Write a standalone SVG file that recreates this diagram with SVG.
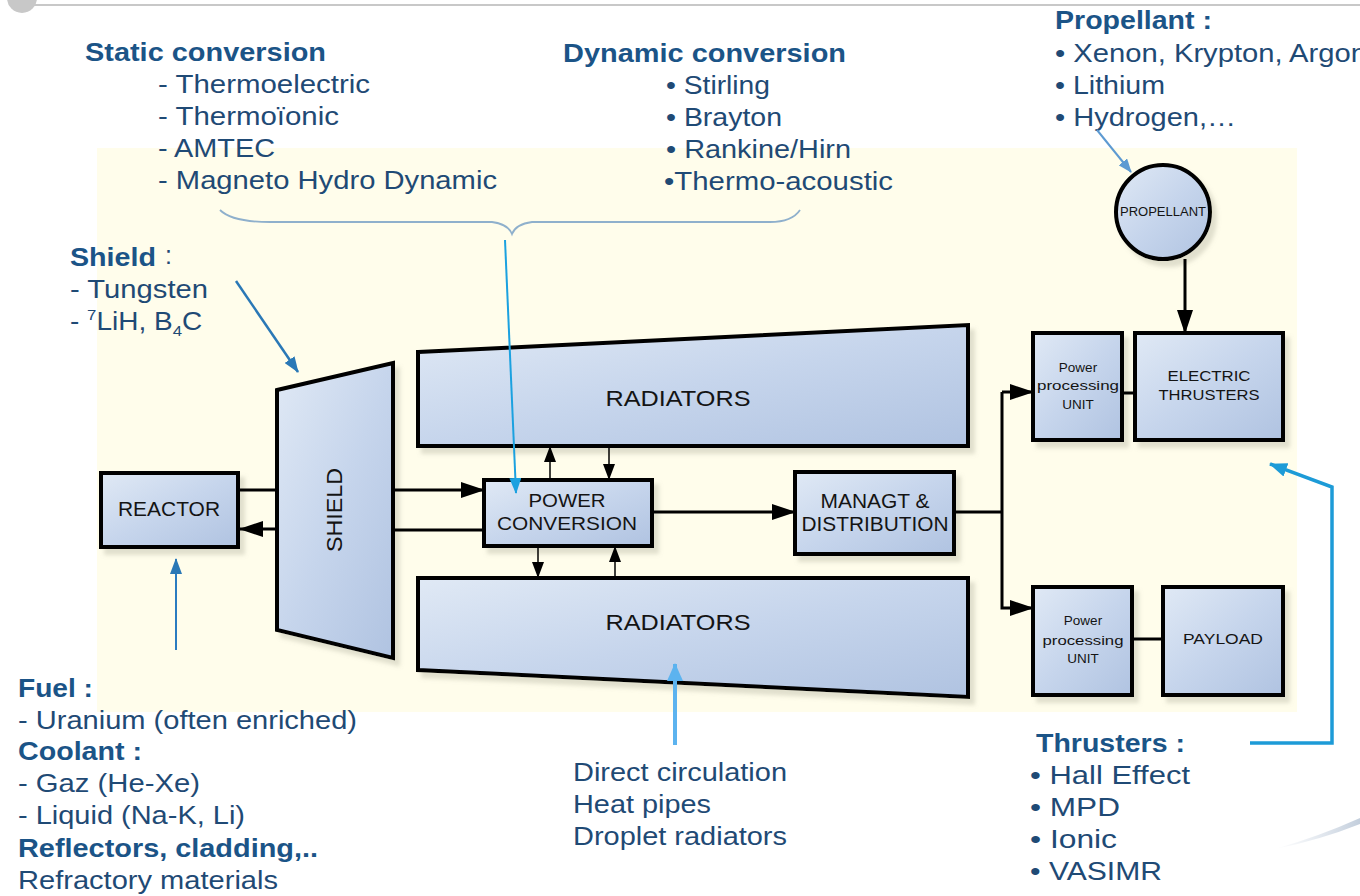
<svg xmlns="http://www.w3.org/2000/svg" width="1360" height="896" viewBox="0 0 1360 896">
<defs>
<style>
.h{font-family:"Liberation Sans",Arial,sans-serif;font-weight:bold;font-size:25px;fill:#1b5487}
.t{font-family:"Liberation Sans",Arial,sans-serif;font-size:25px;fill:#1f4a75}
.n{font-family:"Liberation Sans",Arial,sans-serif;fill:#141414;text-anchor:middle}
.node{fill:url(#gBlue);stroke:#000;stroke-width:4;stroke-linejoin:miter;filter:url(#sh)}
.con{fill:none;stroke:#000;stroke-width:3}
.cs{fill:none;stroke:#000;stroke-width:1.5}
</style>
<linearGradient id="gBlue" x1="0" y1="0" x2="1" y2="1">
<stop offset="0" stop-color="#e0e9f5"/>
<stop offset="0.5" stop-color="#c6d5ec"/>
<stop offset="1" stop-color="#b0c3e1"/>
</linearGradient>
<linearGradient id="gSw" x1="0" y1="0" x2="1" y2="0">
<stop offset="0" stop-color="#c0ccdb" stop-opacity="0"/>
<stop offset="1" stop-color="#a9b9cd" stop-opacity="0.7"/>
</linearGradient>
<filter id="sh" x="-10%" y="-10%" width="130%" height="130%">
<feDropShadow dx="5" dy="6" stdDeviation="2" flood-color="#9a9a88" flood-opacity="0.3"/>
</filter>
<marker id="mB" markerUnits="userSpaceOnUse" markerWidth="24" markerHeight="16" refX="23" refY="8" orient="auto"><path d="M0,0 L24,8 L0,16 Z" fill="#000"/></marker>
<marker id="mS" markerUnits="userSpaceOnUse" markerWidth="16" markerHeight="12" refX="15" refY="6" orient="auto"><path d="M0,0 L16,6 L0,12 Z" fill="#000"/></marker>
<marker id="mBl1" markerUnits="userSpaceOnUse" markerWidth="16" markerHeight="12" refX="15" refY="6" orient="auto"><path d="M0,0 L16,6 L0,12 Z" fill="#2a78b6"/></marker>
<marker id="mBl2" markerUnits="userSpaceOnUse" markerWidth="16" markerHeight="12" refX="15" refY="6" orient="auto"><path d="M0,0 L16,6 L0,12 Z" fill="#1ba1e0"/></marker>
<marker id="mBl3" markerUnits="userSpaceOnUse" markerWidth="18" markerHeight="16" refX="17" refY="8" orient="auto"><path d="M0,0 L18,8 L0,16 Z" fill="#5cb3ef"/></marker>
<marker id="mBl4" markerUnits="userSpaceOnUse" markerWidth="18" markerHeight="14" refX="17" refY="7" orient="auto"><path d="M0,0 L18,7 L0,14 Z" fill="#1d9bd7"/></marker>
<marker id="mBl5" markerUnits="userSpaceOnUse" markerWidth="14" markerHeight="11" refX="13" refY="5.5" orient="auto"><path d="M0,0 L14,5.5 L0,11 Z" fill="#5d9ad2"/></marker>
</defs>

<rect x="0" y="0" width="1360" height="896" fill="#ffffff"/>
<line x1="20" y1="5" x2="1360" y2="5" stroke="#c8c8c8" stroke-width="2"/>
<circle cx="22" cy="-2" r="15" fill="#c8c8c8"/>
<rect x="97" y="148" width="1200" height="564" fill="#fffdeb"/>
<path d="M1275,849 Q1320,836 1360,818 L1360,824 Q1320,840 1275,849 Z" fill="url(#gSw)"/>

<!-- annotation texts -->
<g id="static-conversion">
<text class="h" x="85" y="61" textLength="241" lengthAdjust="spacingAndGlyphs">Static conversion</text>
<text class="t" x="158" y="93" textLength="212" lengthAdjust="spacingAndGlyphs">- Thermoelectric</text>
<text class="t" x="158" y="125" textLength="181" lengthAdjust="spacingAndGlyphs">- Thermoïonic</text>
<text class="t" x="158" y="157" textLength="117" lengthAdjust="spacingAndGlyphs">- AMTEC</text>
<text class="t" x="158" y="189" textLength="339" lengthAdjust="spacingAndGlyphs">- Magneto Hydro Dynamic</text>
</g>
<g id="dynamic-conversion">
<text class="h" x="563" y="62" textLength="283" lengthAdjust="spacingAndGlyphs">Dynamic conversion</text>
<text class="t" x="666" y="94" textLength="104" lengthAdjust="spacingAndGlyphs">• Stirling</text>
<text class="t" x="666" y="126" textLength="116" lengthAdjust="spacingAndGlyphs">• Brayton</text>
<text class="t" x="666" y="158" textLength="185" lengthAdjust="spacingAndGlyphs">• Rankine/Hirn</text>
<text class="t" x="664" y="190" textLength="229" lengthAdjust="spacingAndGlyphs">•Thermo-acoustic</text>
</g>
<g id="propellant-notes">
<text class="h" x="1055" y="29" textLength="157" lengthAdjust="spacingAndGlyphs">Propellant :</text>
<text class="t" x="1055" y="62" textLength="312" lengthAdjust="spacingAndGlyphs">• Xenon, Krypton, Argon</text>
<text class="t" x="1055" y="94" textLength="110" lengthAdjust="spacingAndGlyphs">• Lithium</text>
<text class="t" x="1055" y="126" textLength="181" lengthAdjust="spacingAndGlyphs">• Hydrogen,…</text>
</g>
<g id="shield-notes">
<text class="h" x="70" y="266" textLength="86" lengthAdjust="spacingAndGlyphs">Shield</text>
<text class="t" x="165" y="264">:</text>
<text class="t" x="70" y="298" textLength="138" lengthAdjust="spacingAndGlyphs">- Tungsten</text>
<text class="t" transform="translate(70,330) scale(1.12,1)" x="0" y="0">- <tspan font-size="15" dy="-10">7</tspan><tspan dy="10">LiH, B</tspan><tspan font-size="15" dy="6">4</tspan><tspan dy="-6">C</tspan></text>
</g>
<g id="reactor-notes">
<text class="h" x="18" y="697" textLength="75" lengthAdjust="spacingAndGlyphs">Fuel :</text>
<text class="t" x="18" y="729" textLength="339" lengthAdjust="spacingAndGlyphs">- Uranium (often enriched)</text>
<text class="h" x="18" y="760" textLength="124" lengthAdjust="spacingAndGlyphs">Coolant :</text>
<text class="t" x="18" y="792" textLength="182" lengthAdjust="spacingAndGlyphs">- Gaz (He-Xe)</text>
<text class="t" x="18" y="824" textLength="227" lengthAdjust="spacingAndGlyphs">- Liquid (Na-K, Li)</text>
<text class="h" x="18" y="857" textLength="300" lengthAdjust="spacingAndGlyphs">Reflectors, cladding,..</text>
<text class="t" x="18" y="889" textLength="260" lengthAdjust="spacingAndGlyphs">Refractory materials</text>
</g>
<g id="radiator-notes">
<text class="t" x="573" y="781" textLength="214" lengthAdjust="spacingAndGlyphs" fill="#1f5a93">Direct circulation</text>
<text class="t" x="573" y="813" textLength="138" lengthAdjust="spacingAndGlyphs">Heat pipes</text>
<text class="t" x="573" y="845" textLength="214" lengthAdjust="spacingAndGlyphs">Droplet radiators</text>
</g>
<g id="thruster-notes">
<text class="h" x="1036" y="752" textLength="149" lengthAdjust="spacingAndGlyphs">Thrusters :</text>
<text class="t" x="1030" y="784" textLength="160" lengthAdjust="spacingAndGlyphs">• Hall Effect</text>
<text class="t" x="1030" y="816" textLength="90" lengthAdjust="spacingAndGlyphs">• MPD</text>
<text class="t" x="1030" y="848" textLength="87" lengthAdjust="spacingAndGlyphs">• Ionic</text>
<text class="t" x="1030" y="880" textLength="132" lengthAdjust="spacingAndGlyphs">• VASIMR</text>
</g>

<!-- nodes -->
<g id="reactor">
<rect class="node" x="101" y="473" width="137" height="74"/>
<text class="n" x="169" y="516" font-size="20" textLength="102" lengthAdjust="spacingAndGlyphs">REACTOR</text>
</g>
<g id="shield">
<polygon class="node" points="277,390 393,363 393,658 277,630"/>
<text class="n" font-size="22" transform="translate(342,510) rotate(-90)" textLength="84" lengthAdjust="spacingAndGlyphs">SHIELD</text>
</g>
<g id="radiators-top">
<polygon class="node" points="418,352 968,325 968,446 418,446"/>
<text class="n" x="678" y="406" font-size="22" textLength="145" lengthAdjust="spacingAndGlyphs">RADIATORS</text>
</g>
<g id="radiators-bottom">
<polygon class="node" points="418,578 968,578 968,697 418,670"/>
<text class="n" x="678" y="630" font-size="22" textLength="145" lengthAdjust="spacingAndGlyphs">RADIATORS</text>
</g>
<g id="power-conversion">
<rect class="node" x="484" y="480" width="168" height="66"/>
<text class="n" x="567" y="507" font-size="19" textLength="77" lengthAdjust="spacingAndGlyphs">POWER</text>
<text class="n" x="567" y="530" font-size="19" textLength="140" lengthAdjust="spacingAndGlyphs">CONVERSION</text>
</g>
<g id="managt-distribution">
<rect class="node" x="795" y="472" width="159" height="82"/>
<text class="n" x="875" y="508" font-size="20" textLength="109" lengthAdjust="spacingAndGlyphs">MANAGT &amp;</text>
<text class="n" x="875" y="531" font-size="20" textLength="147" lengthAdjust="spacingAndGlyphs">DISTRIBUTION</text>
</g>
<g id="ppu-top">
<rect class="node" x="1033" y="333" width="89" height="107"/>
<text class="n" x="1078" y="372" font-size="13.5">Power</text>
<text class="n" x="1078" y="390" font-size="13.5" textLength="82" lengthAdjust="spacingAndGlyphs">processing</text>
<text class="n" x="1078" y="409" font-size="13.5">UNIT</text>
</g>
<g id="electric-thrusters">
<rect class="node" x="1135" y="333" width="148" height="107"/>
<text class="n" x="1209" y="381" font-size="15" textLength="83" lengthAdjust="spacingAndGlyphs">ELECTRIC</text>
<text class="n" x="1209" y="400" font-size="15" textLength="101" lengthAdjust="spacingAndGlyphs">THRUSTERS</text>
</g>
<g id="ppu-bottom">
<rect class="node" x="1033" y="587" width="99" height="108"/>
<text class="n" x="1083" y="625" font-size="13.5">Power</text>
<text class="n" x="1083" y="645" font-size="13.5" textLength="81" lengthAdjust="spacingAndGlyphs">processing</text>
<text class="n" x="1083" y="663" font-size="13.5">UNIT</text>
</g>
<g id="payload">
<rect class="node" x="1163" y="587" width="120" height="108"/>
<text class="n" x="1223" y="644" font-size="15" textLength="80" lengthAdjust="spacingAndGlyphs">PAYLOAD</text>
</g>
<g id="propellant">
<circle class="node" cx="1163" cy="212" r="47"/>
<text class="n" x="1163" y="216" font-size="12" textLength="86" lengthAdjust="spacingAndGlyphs">PROPELLANT</text>
</g>

<!-- connectors -->
<g id="connectors">
<line class="con" x1="238" y1="490" x2="277" y2="490"/>
<line class="con" x1="277" y1="529" x2="240" y2="529" marker-end="url(#mB)"/>
<line class="con" x1="393" y1="490" x2="484" y2="490" marker-end="url(#mB)"/>
<line class="con" x1="484" y1="530" x2="393" y2="530"/>
<line class="cs" x1="550" y1="480" x2="550" y2="447" marker-end="url(#mS)"/>
<line class="cs" x1="609" y1="446" x2="609" y2="479" marker-end="url(#mS)"/>
<line class="cs" x1="538" y1="546" x2="538" y2="577" marker-end="url(#mS)"/>
<line class="cs" x1="615" y1="578" x2="615" y2="547" marker-end="url(#mS)"/>
<line class="con" x1="652" y1="512" x2="795" y2="512" marker-end="url(#mB)"/>
<polyline class="con" points="954,512 1002,512"/>
<polyline class="con" points="1002,392 1002,608 1033,608" marker-end="url(#mB)"/>
<line class="con" x1="1002" y1="392" x2="1033" y2="392" marker-end="url(#mB)"/>
<line class="con" x1="1122" y1="393" x2="1135" y2="393"/>
<line class="con" x1="1132" y1="639" x2="1163" y2="639"/>
<line class="con" x1="1185" y1="259" x2="1185" y2="333" marker-end="url(#mB)"/>
<!-- annotation arrows -->
<path d="M220,210 Q232,222 270,222 L492,222 Q508,224 512,234 Q516,224 532,222 L770,222 Q792,222 800,210" fill="none" stroke="#8fb0cc" stroke-width="1.8"/>
<line x1="505" y1="240" x2="516" y2="493" stroke="#1ba1e0" stroke-width="2" marker-end="url(#mBl2)"/>
<line x1="236" y1="281" x2="298" y2="372" stroke="#2a78b6" stroke-width="2.5" marker-end="url(#mBl1)"/>
<line x1="176" y1="650" x2="176" y2="559" stroke="#2b7cc0" stroke-width="2" marker-end="url(#mBl1)"/>
<line x1="675" y1="745" x2="675" y2="664" stroke="#5cb3ef" stroke-width="4" marker-end="url(#mBl3)"/>
<polyline points="1250,743 1332,743 1332,487 1270,464" fill="none" stroke="#1d9bd7" stroke-width="3.5" marker-end="url(#mBl4)"/>
<line x1="1097" y1="130" x2="1131" y2="172" stroke="#5d9ad2" stroke-width="2" marker-end="url(#mBl5)"/>
</g>
</svg>
